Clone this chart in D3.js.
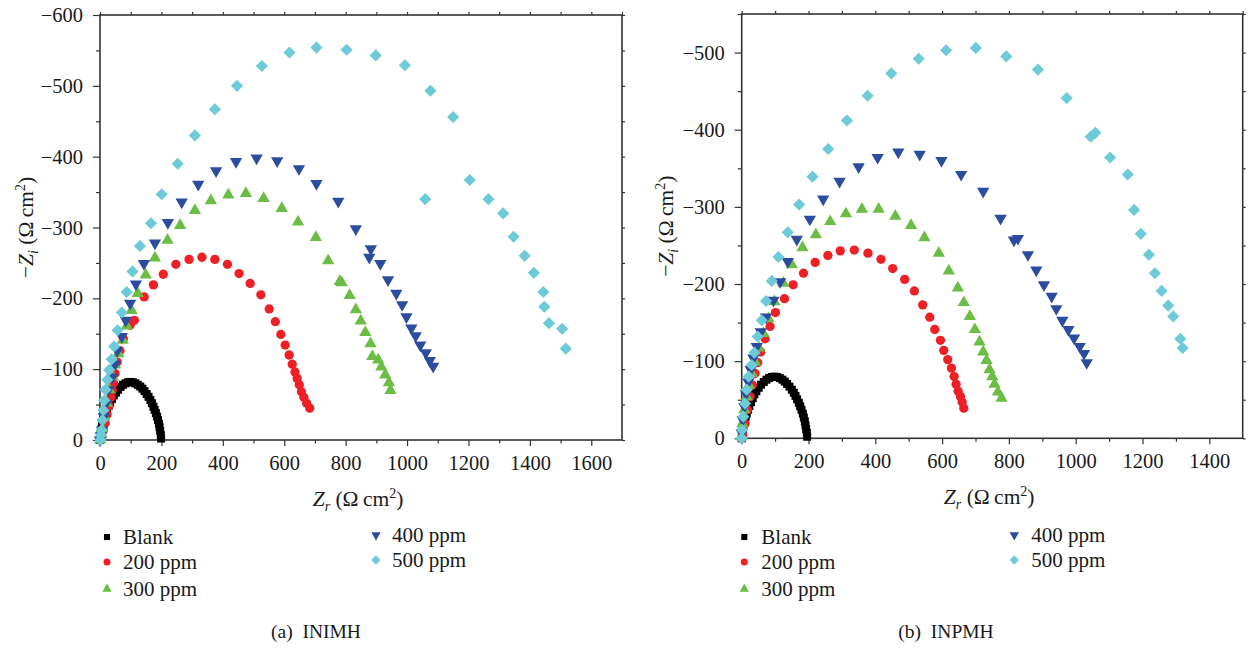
<!DOCTYPE html>
<html>
<head>
<meta charset="utf-8">
<script src="https://cdn.jsdelivr.net/npm/d3@7"></script>
<style>
  body { margin: 0; background: #fff; }
  svg { display: block; }
</style>
</head>
<body>
<svg id="chart" width="1250" height="648"></svg>
<script>
// ---- Nyquist data: [Z_r, Z_i] in Ω cm² (Z_i is negative) ----

// (a) INIMH
const inimhBlank = [[0,0],[1,-4],[2,-8],[3,-12],[5,-16],[7,-20],[9,-24],[12,-29],[15,-33],[19,-38],[23,-43],[28,-48],[33,-53],[39,-58],[45,-63],[52,-67],[59,-71],[67,-75],[75,-78],[83,-80],[91,-81.5],[99,-82],[107,-81.5],[115,-80],[123,-78],[131,-75.5],[138,-72.5],[145,-69],[152,-65],[158,-61],[164,-56.5],[169,-52],[174,-47],[178,-42.5],[182,-38],[186,-33],[189,-28],[192,-23],[194,-18],[196,-13],[198,-7],[199,-2]];
const inimh200 = [[2,0],[6,-6],[11,-14],[17,-24],[23,-36],[29,-48],[35,-60],[40,-70],[44,-80],[49,-94],[56,-110],[65,-126],[76,-143],[98,-162],[112,-169],[144,-202],[174,-219],[206,-234],[247,-248],[290,-255],[332,-258],[374,-255],[415,-248],[453,-235],[489,-221],[524,-205],[551,-185],[571,-167],[589,-149],[603,-134],[616,-120],[626,-107],[635,-96],[642,-87],[649,-78],[656,-68],[664,-60],[673,-52],[683,-45]];
const inimh300 = [[1,0],[4,-8],[8,-16],[14,-33],[22,-52],[30,-71],[41,-89],[49,-106],[60,-122],[74,-141],[87,-161],[103,-183],[123,-207],[149,-233],[179,-257],[220,-282],[261,-303],[309,-324],[361,-338],[418,-346],[475,-348],[533,-341],[592,-327],[645,-308],[703,-286],[743,-253],[781,-224],[787,-222],[813,-204],[833,-184],[849,-168],[864,-152],[881,-136],[887,-118],[906,-113],[916,-103],[929,-92],[941,-81],[946,-70]];
const inimh400 = [[0,0],[3,-6],[7,-14],[13,-33],[20,-52],[27,-71],[40,-89],[49,-107],[56,-126],[71,-146],[84,-169],[98,-193],[117,-220],[143,-249],[179,-278],[221,-307],[266,-336],[320,-361],[378,-380],[443,-393],[510,-398],[577,-394],[648,-383],[705,-362],[776,-337],[833,-298],[877,-258],[882,-270],[913,-249],[938,-226],[965,-207],[984,-191],[998,-174],[1014,-158],[1028,-147],[1043,-134],[1061,-123],[1074,-112],[1085,-104]];
const inimh500 = [[1,0],[3,-7],[5,-14],[8,-28],[11,-42],[14,-56],[18,-71],[24,-85],[30,-99],[38,-114],[46,-132],[57,-155],[71,-180],[87,-209],[106,-238],[130,-274],[166,-306],[201,-347],[253,-390],[309,-430],[374,-467],[446,-500],[527,-528],[617,-547],[705,-554],[803,-551],[898,-543],[993,-529],[1076,-493],[1150,-456],[1059,-340],[1204,-367],[1265,-340],[1313,-320],[1347,-287],[1383,-260],[1413,-236],[1444,-209],[1447,-188],[1462,-165],[1505,-157],[1517,-129]];

// (b) INPMH
const inpmhBlank = [[0,0],[1,-4],[2,-8],[3,-12],[5,-16],[7,-20],[9,-24],[12,-28],[15,-32],[19,-37],[23,-42],[28,-47],[33,-52],[38,-57],[44,-61],[51,-65.5],[58,-69.5],[66,-73],[74,-76],[82,-78],[90,-79.5],[98,-80],[106,-79.5],[114,-78],[122,-76],[129,-73.5],[136,-70.5],[143,-67],[150,-63],[156,-59],[161,-55],[166,-50.5],[171,-46],[175,-41.5],[179,-37],[183,-32],[186,-27],[189,-22],[191,-17],[193,-12],[195,-7],[196,-2]];
const inpmh200 = [[0,0],[3,-4],[10,-19],[17,-37],[25,-54],[32,-69],[40,-84],[48,-98],[57,-112],[70,-129],[85,-145],[101,-163],[128,-181],[154,-199],[185,-214],[220,-228],[258,-237],[295,-243],[337,-244],[378,-240],[417,-232],[452,-220],[488,-206],[517,-191],[542,-173],[563,-157],[578,-141],[595,-127],[605,-114],[617,-102],[628,-91],[636,-80],[642,-70],[648,-61],[655,-54],[660,-47],[665,-39]];
const inpmh300 = [[0,-2],[2,-19],[8,-37],[15,-54],[22,-69],[30,-84],[40,-99],[52,-117],[65,-136],[80,-155],[98,-177],[125,-201],[150,-225],[182,-247],[222,-264],[265,-281],[312,-291],[360,-297],[410,-297],[460,-288],[507,-276],[547,-260],[590,-240],[620,-217],[647,-195],[665,-176],[683,-158],[698,-141],[712,-125],[723,-112],[733,-101],[742,-89],[750,-80],[757,-70],[767,-60],[778,-52]];
const inpmh400 = [[0,-7],[3,-24],[8,-41],[13,-58],[20,-73],[27,-89],[35,-104],[45,-119],[57,-138],[73,-157],[95,-179],[115,-203],[138,-229],[165,-258],[204,-284],[244,-310],[293,-333],[350,-352],[407,-364],[469,-371],[533,-368],[598,-360],[657,-342],[723,-320],[775,-285],[815,-257],[827,-259],[857,-238],[882,-218],[905,-199],[928,-184],[942,-168],[960,-153],[978,-141],[995,-130],[1012,-119],[1025,-110],[1033,-98]];
const inpmh500 = [[0,0],[1,-11],[5,-28],[10,-45],[15,-63],[21,-80],[30,-95],[38,-111],[48,-132],[60,-153],[73,-178],[90,-204],[110,-235],[138,-267],[172,-303],[212,-339],[259,-375],[315,-412],[377,-444],[448,-473],[530,-492],[612,-503],[701,-506],[792,-495],[887,-478],[973,-441],[1045,-391],[1059,-396],[1103,-364],[1156,-342],[1175,-296],[1195,-265],[1219,-238],[1237,-214],[1257,-191],[1277,-172],[1292,-158],[1313,-129],[1320,-117]];

// Series legend entries, colours and marker shapes
const seriesNames  = ["Blank", "200 ppm", "300 ppm", "400 ppm", "500 ppm"];
const seriesColors = ["#000000", "#ee1f25", "#6bbd45", "#2c4c9f", "#6dcad7"];
const seriesShapes = ["square", "circle", "triangle", "triangleDown", "diamond"];

// Axis tick labels
const inimhXTicks = [0, 200, 400, 600, 800, 1000, 1200, 1400, 1600];
const inimhYTicks = [0, -100, -200, -300, -400, -500, -600];
const inpmhXTicks = [0, 200, 400, 600, 800, 1000, 1200, 1400];
const inpmhYTicks = [0, -100, -200, -300, -400, -500];

const FONT = '"Liberation Serif", "Times New Roman", serif';
const AXIS_COLOR = "#333";
const TEXT_COLOR = "#1a1a1a";
const svg = d3.select("#chart");

function markerPath(shape, big) {
  const s = big ? 1 : 0.58;
  switch (shape) {
    case "square": return { d: d3.symbol(d3.symbolSquare, 64 * s)(), rot: 0 };
    case "circle": return { d: d3.symbol(d3.symbolCircle, 68 * s)(), rot: 0 };
    case "triangle": return { d: d3.symbol(d3.symbolTriangle, 66 * s)(), rot: 0 };
    case "triangleDown": return { d: d3.symbol(d3.symbolTriangle, 66 * s)(), rot: 180 };
    case "diamond": return { d: d3.symbol(d3.symbolSquare, 74 * s)(), rot: 45 };
  }
}

// Ω cm² unit with italic Z and a subscript
function unitTitle(text, sub) {
  text.append("tspan").attr("font-style", "italic").text("Z");
  text.append("tspan").attr("font-style", "italic").attr("font-size", 14).attr("dy", 5).text(sub);
  text.append("tspan").attr("dy", -5).text(" (\u03A9\u2009cm");
  text.append("tspan").attr("font-size", 14).attr("dy", -8).text("2");
  text.append("tspan").attr("dy", 8).text(")");
}

function drawPanel(p) {
  const x = d3.scaleLinear().domain([0, p.xMax]).range([p.l, p.r]);
  const y = d3.scaleLinear().domain([0, p.yMin]).range([p.b, p.t]);
  const g = svg.append("g");
  const fmt = d3.format("d");

  const xMinor = d3.range(100, p.xMax, 200);
  const xAll = d3.range(0, p.xMax + 1, 100);
  const yMinor = d3.range(-50, p.yMin - 1, -100);
  const yAll = d3.range(0, p.yMin - 1, -50);

  function styleAxis(sel) {
    sel.select(".domain").remove();
    sel.selectAll("line").attr("stroke", AXIS_COLOR).attr("stroke-width", 1.2);
    sel.selectAll("text").attr("font-family", FONT).attr("font-size", 20.5).attr("fill", TEXT_COLOR);
  }

  // bottom axis: labelled majors + minors
  g.append("g").attr("transform", `translate(0,${p.b})`)
    .call(d3.axisBottom(x).tickValues(p.xTicks).tickFormat(fmt).tickSize(6).tickPadding(9))
    .call(styleAxis);
  g.append("g").attr("transform", `translate(0,${p.b})`)
    .call(d3.axisBottom(x).tickValues(xMinor).tickFormat("").tickSize(3.5))
    .call(styleAxis);
  // top axis
  g.append("g").attr("transform", `translate(0,${p.t})`)
    .call(d3.axisTop(x).tickValues(xAll).tickFormat("").tickSize(3))
    .call(styleAxis);
  // left axis
  g.append("g").attr("transform", `translate(${p.l},0)`)
    .call(d3.axisLeft(y).tickValues(p.yTicks).tickFormat(fmt).tickSize(7).tickPadding(10))
    .call(styleAxis);
  g.append("g").attr("transform", `translate(${p.l},0)`)
    .call(d3.axisLeft(y).tickValues(yMinor).tickFormat("").tickSize(4))
    .call(styleAxis);
  // right axis
  g.append("g").attr("transform", `translate(${p.r},0)`)
    .call(d3.axisRight(y).tickValues(yAll).tickFormat("").tickSize(3))
    .call(styleAxis);

  // frame
  g.append("rect")
    .attr("x", p.l).attr("y", p.t)
    .attr("width", p.r - p.l).attr("height", p.b - p.t)
    .attr("fill", "none").attr("stroke", AXIS_COLOR).attr("stroke-width", 1.6);

  // markers
  p.series.forEach((data, i) => {
    const m = markerPath(seriesShapes[i], true);
    g.append("g").selectAll("path").data(data).join("path")
      .attr("d", m.d)
      .attr("transform", d => `translate(${x(d[0])},${y(d[1])}) rotate(${m.rot})`)
      .attr("fill", seriesColors[i]);
  });

  // y-axis title: −Z_i (Ω cm²)
  const yt = g.append("text")
    .attr("transform", `translate(${p.yTitleX},${(p.t + p.b) / 2}) rotate(-90)`)
    .attr("text-anchor", "middle")
    .attr("font-family", FONT).attr("font-size", 21.5).attr("fill", TEXT_COLOR);
  yt.append("tspan").text("\u2212");
  unitTitle(yt, "i");

  // x-axis title: Z_r (Ω cm²)
  const xt = g.append("text")
    .attr("x", (p.l + p.r) / 2 - 3).attr("y", p.b + 66)
    .attr("text-anchor", "middle")
    .attr("font-family", FONT).attr("font-size", 21.5).attr("fill", TEXT_COLOR);
  unitTitle(xt, "r");

  // legend
  const lg = g.append("g");
  seriesNames.forEach((name, i) => {
    const pos = p.legend[i];
    const m = markerPath(seriesShapes[i], false);
    lg.append("path")
      .attr("d", m.d)
      .attr("transform", `translate(${pos[0]},${pos[1]}) rotate(${m.rot})`)
      .attr("fill", seriesColors[i]);
    lg.append("text")
      .attr("x", pos[0] + p.legendGap).attr("y", pos[1] + 7)
      .attr("font-family", FONT).attr("font-size", 21).attr("fill", TEXT_COLOR)
      .text(name);
  });

  // caption
  g.append("text")
    .attr("x", p.captionX).attr("y", 638)
    .attr("text-anchor", "middle")
    .attr("font-family", FONT).attr("font-size", 19.5).attr("fill", TEXT_COLOR)
    .attr("xml:space", "preserve").style("white-space", "pre")
    .text(p.caption);
}

drawPanel({
  l: 100, r: 622, t: 15, b: 440, xMax: 1700, yMin: -600,
  xTicks: inimhXTicks, yTicks: inimhYTicks,
  series: [inimhBlank, inimh200, inimh300, inimh400, inimh500],
  yTitleX: 33,
  legend: [[107, 537], [107, 562], [107, 589], [376, 535], [376, 560]],
  legendGap: 16,
  caption: "(a)  INIMH", captionX: 316
});

drawPanel({
  l: 741.7, r: 1242.7, t: 14, b: 438.3, xMax: 1500, yMin: -550,
  xTicks: inpmhXTicks, yTicks: inpmhYTicks,
  series: [inpmhBlank, inpmh200, inpmh300, inpmh400, inpmh500],
  yTitleX: 673,
  legend: [[744.3, 537], [744.3, 562], [744.3, 589], [1014.3, 535], [1014.3, 560]],
  legendGap: 17,
  caption: "(b)  INPMH", captionX: 946
});
</script>
</body>
</html>
